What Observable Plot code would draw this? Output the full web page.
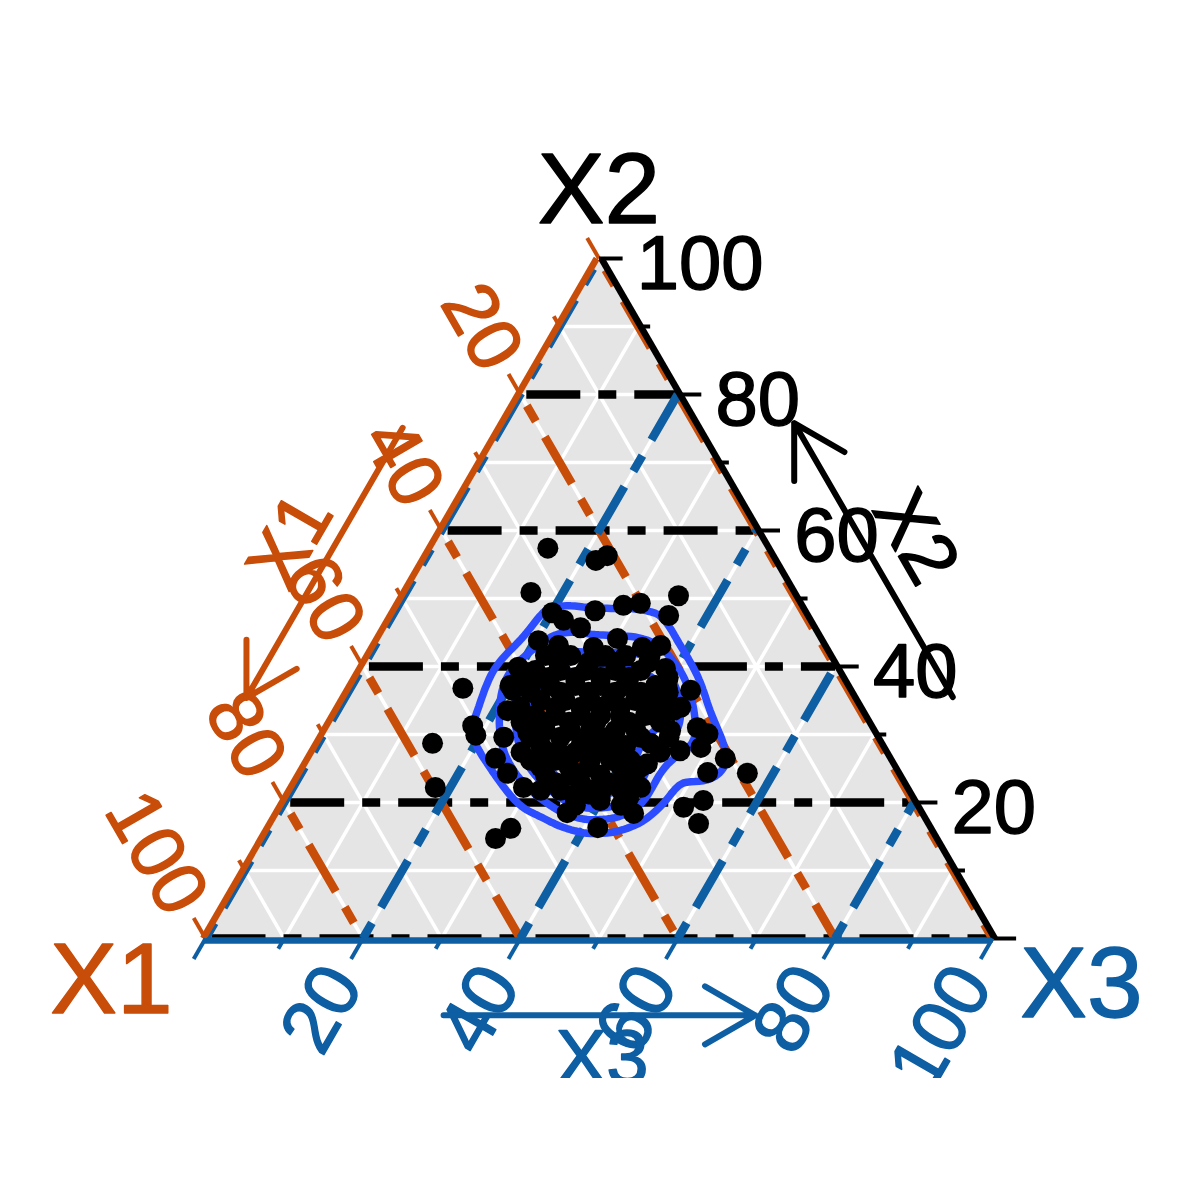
<!DOCTYPE html>
<html><head><meta charset="utf-8">
<script src="https://cdn.jsdelivr.net/npm/d3@7"></script>
<script src="https://cdn.jsdelivr.net/npm/@observablehq/plot@0.6"></script>
<style>body{margin:0;background:#fff;}</style>
</head><body><div id="chart"></div>
<script>
// ---- data ----
const axisNames = ["X1", "X2", "X3"];
const gridSteps = [10, 20, 30, 40, 50, 60, 70, 80, 90];
const dashedSteps = [0, 20, 40, 60, 80];
const tickSteps = [0, 10, 20, 30, 40, 50, 60, 70, 80, 90, 100];
const labelSteps = [20, 40, 60, 80, 100];
const labelText = ["20", "40", "60", "80", "100"];

// point composition (percent): X2 and X3; X1 = 100 - X2 - X3
const pointX2 = [57.4,55.6,56.3,50.9,47.9,46.8,45.7,48.2,43.8,43.1,39.9,37.2,36.8,50.4,47.5,49.3,49.0,44.1,42.8,43.1,42.8,36.5,33.5,31.3,29.9,28.7,29.6,26.5,24.3,22.2,22.2,21.8,18.5,16.2,14.7,16.3,30.3,21.3,27.2,24.3,26.5,24.4,20.3,19.3,16.9,18.4,20.3,30.1,31.0,28.1,27.6,33.5,28.7,32.5,36.0,36.9,22.2,21.8,25.7,22.2,41.6,39.7,36.5,19.6,
41.6,41.6,41.6,41.6,39.4,39.4,39.4,39.4,39.4,37.2,37.2,37.2,37.2,37.2,37.2,35.0,35.0,35.0,35.0,35.0,32.8,32.8,32.8,32.8,32.8,32.8,30.6,30.6,30.6,30.6,30.6,28.4,28.4,28.4,28.4,26.2,26.2,26.2,26.2,26.2,24.0,24.0,24.0,24.0,21.8,21.8,35.0,30.6,19.6,
40.6,40.6,40.6,40.6,38.4,38.4,38.4,38.4,38.4,38.4,36.2,36.2,36.2,36.2,36.2,36.2,34.0,34.0,34.0,34.0,34.0,34.0,34.0,31.8,31.8,31.8,31.8,31.8,31.8,29.6,29.6,29.6,29.6,29.6,29.6,27.4,27.4,27.4,27.4,27.4,27.4,25.2,25.2,25.2,25.2,25.2,22.9,22.9,22.9,22.9,20.7,20.7,20.7];
const pointX3 = [14.8,21.8,22.9,15.9,20.1,22.1,24.8,25.4,20.4,23.3,19.8,20.1,14.3,34.9,35.1,30.6,28.6,30.3,34.1,36.3,27.9,20.8,21.6,18.3,19.4,14.5,23.1,23.6,26.2,18.1,29.3,31.7,36.7,30.7,29.5,41.7,25.8,36.6,31.5,56.7,52.8,51.6,53.1,51.1,54.2,45.2,40.0,48.8,47.0,48.9,46.5,42.7,42.2,41.2,38.5,40.2,39.5,41.9,43.3,44.2,35.7,38.6,43.4,37.2,
22.4,25.6,30.0,32.6,22.2,25.4,28.6,32.4,35.6,22.7,25.2,28.4,31.6,34.8,38.6,25.1,28.2,31.4,34.0,37.1,25.5,28.1,31.3,33.8,36.3,39.5,27.9,31.1,33.6,36.8,39.4,28.4,33.5,36.0,39.2,28.2,31.4,35.8,38.4,40.9,31.2,34.4,38.2,41.4,34.2,38.0,40.3,43.8,43.0,
24.6,28.4,31.8,36.0,20.8,24.4,27.8,31.0,34.6,39.6,23.2,27.0,30.6,34.0,37.2,40.7,23.0,27.5,30.7,33.2,35.7,39.3,43.4,24.2,27.3,30.3,33.7,37.9,41.9,26.5,30.3,33.9,36.4,40.5,44.1,26.4,29.9,33.3,35.9,38.4,44.1,30.0,33.6,36.1,40.2,42.7,33.0,36.2,39.7,43.2,36.6,39.8,43.4];

// arrows: [X1,X2,X3] start and end compositions
const arrowFrom = [[37.4, 75.1, -12.5], [-12.7, 35.5, 77.2], [75.4, -11.3, 35.9]];
const arrowTo   = [[77.1, 35.4, -12.5], [-12.7, 75.8, 36.9], [35.8, -11.3, 75.5]];
// arrow labels and titles (compositions)
const arrowLabelPos = [[59.95, 58.5, -18.45], [-19.7, 59.0, 60.7], [58.4, -17.6, 59.2]];
const arrowLabelRot = [-60, 60, 0];
const titlePos = [[115.05, -6.2, -8.85], [-5, 110, -5], [-7.9, -6.8, 114.7]];

// ---- styles ----
const ORANGE = "#C84D09", BLUE = "#0D5EA2", BLACK = "#000000", CONTOUR = "#2B4CFF";
const FONT = "'Liberation Sans', Arial, Helvetica, sans-serif";
const S3 = Math.sqrt(3) / 2;
const T = (a, b, c) => ({x: c / 100 + b / 200, y: (b / 100) * S3});
const seg = (p, q) => { const A = T(...p), B = T(...q); return {x1: A.x, y1: A.y, x2: B.x, y2: B.y}; };

const points = pointX2.map((b, i) => { const c = pointX3[i]; return {X1: 100 - b - c, X2: b, X3: c, ...T(100 - b - c, b, c)}; });
const triangle = [T(100, 0, 0), T(0, 100, 0), T(0, 0, 100)];

const gridLines = [];
for (const k of gridSteps) {
  gridLines.push(seg([100 - k, k, 0], [0, k, 100 - k]));
  gridLines.push(seg([k, 100 - k, 0], [k, 0, 100 - k]));
  gridLines.push(seg([100 - k, 0, k], [0, 100 - k, k]));
}
const dashX2 = dashedSteps.map(k => seg([100 - k, k, 0], [0, k, 100 - k]));
const dashX1 = dashedSteps.map(k => seg([k, 100 - k, 0], [k, 0, 100 - k]));
const dashX3 = dashedSteps.map(k => seg([100 - k, 0, k], [0, 100 - k, k]));

// axis lines sit just outside the panel
const o = 0.3;
const edgeOrange = [seg([100 + o, 0, -o], [o, 100, -o])];
const edgeBlue = [seg([100 + o, -o, 0], [o, -o, 100])];
const edgeBlack = [seg([-o, 0, 100 + o], [-o, 100, o])];

const ticksX1 = [], ticksX2 = [], ticksX3 = [];
for (const k of tickSteps) {
  const L = k % 20 === 0 ? 3.0 : 1.5;
  ticksX1.push(seg([k, 100 - k, 0], [k, 100 - k + L, -L]));
  ticksX2.push(seg([0, k, 100 - k], [-L, k, 100 - k + L]));
  ticksX3.push(seg([100 - k, 0, k], [100 - k + L, -L, k]));
}
const labX1 = labelSteps.map((k, i) => ({...T(k, 100 - k + 4.5, -4.5), t: labelText[i]}));
const labX2 = labelSteps.map((k, i) => ({...T(-4.8, k, 100 - k + 4.8), t: labelText[i]}));
const labX3 = labelSteps.map((k, i) => ({...T(100 - k + 5, -5, k), t: labelText[i]}));

const arrows = arrowFrom.map((p, i) => seg(p, arrowTo[i]));
const arrowLabels = arrowLabelPos.map((p, i) => ({...T(...p), t: axisNames[i]}));
const titles = titlePos.map((p, i) => ({...T(...p), t: axisNames[i]}));

const L = {x1: "x1", y1: "y1", x2: "x2", y2: "y2"};
const EDGE_W = 6.5, TICK_W = 4, ARROW_W = 6, TXT_W = 1.5;
const txt = (data, color, size, extra = {}) =>
  Plot.text(data, {x: "x", y: "y", text: "t", fill: color, stroke: color, strokeWidth: TXT_W, fontSize: size, ...extra});

const chart = Plot.plot({
  width: 1200,
  height: 1078,
  x: {domain: [0, 1], range: [205, 992], axis: null},
  y: {domain: [0, S3], range: [938, 258], axis: null},
  style: {fontFamily: FONT, background: "white", overflow: "hidden"},
  marks: [
    Plot.line(triangle, {x: "x", y: "y", fill: "#E5E5E5", stroke: "none"}),
    Plot.link(gridLines, {...L, stroke: "white", strokeWidth: 3.5}),
    Plot.link(dashX2, {...L, stroke: BLACK, strokeWidth: 8.5, strokeDasharray: "54,18,18,18", strokeDashoffset: -6}),
    Plot.link(dashX1, {...L, stroke: ORANGE, strokeWidth: 8.5, strokeDasharray: "18,18,54,18", strokeDashoffset: -13}),
    Plot.link(dashX3, {...L, stroke: BLUE, strokeWidth: 8.5, strokeDasharray: "18,18,54,18", strokeDashoffset: 0}),
    Plot.density(points, {x: "x", y: "y", stroke: CONTOUR, strokeWidth: 7.5, bandwidth: 19, thresholds: 5}),
    Plot.dot(points, {x: "x", y: "y", r: 10.5, fill: "black", stroke: "none"}),
    Plot.link(edgeOrange, {...L, stroke: ORANGE, strokeWidth: EDGE_W}),
    Plot.link(edgeBlue, {...L, stroke: BLUE, strokeWidth: EDGE_W}),
    Plot.link(edgeBlack, {...L, stroke: BLACK, strokeWidth: EDGE_W}),
    Plot.link(ticksX1, {...L, stroke: ORANGE, strokeWidth: TICK_W}),
    Plot.link(ticksX2, {...L, stroke: BLACK, strokeWidth: TICK_W}),
    Plot.link(ticksX3, {...L, stroke: BLUE, strokeWidth: TICK_W}),
    txt(labX1, ORANGE, 76, {rotate: 60, textAnchor: "end"}),
    txt(labX2, BLACK, 76, {textAnchor: "start", dy: 6}),
    txt(labX3, BLUE, 76, {rotate: -60, textAnchor: "end"}),
    Plot.arrow([arrows[0]], {...L, stroke: ORANGE, strokeWidth: ARROW_W, headLength: 14.5, headAngle: 60}),
    Plot.arrow([arrows[1]], {...L, stroke: BLACK, strokeWidth: ARROW_W, headLength: 14.5, headAngle: 60}),
    Plot.arrow([arrows[2]], {...L, stroke: BLUE, strokeWidth: ARROW_W, headLength: 14.5, headAngle: 60}),
    txt([arrowLabels[0]], ORANGE, 76, {rotate: arrowLabelRot[0]}),
    txt([arrowLabels[1]], BLACK, 76, {rotate: arrowLabelRot[1]}),
    txt([arrowLabels[2]], BLUE, 76, {rotate: arrowLabelRot[2]}),
    txt([titles[0]], ORANGE, 100),
    txt([titles[1]], BLACK, 100),
    txt([titles[2]], BLUE, 100)
  ]
});
document.getElementById("chart").append(chart);
</script>
</body></html>
